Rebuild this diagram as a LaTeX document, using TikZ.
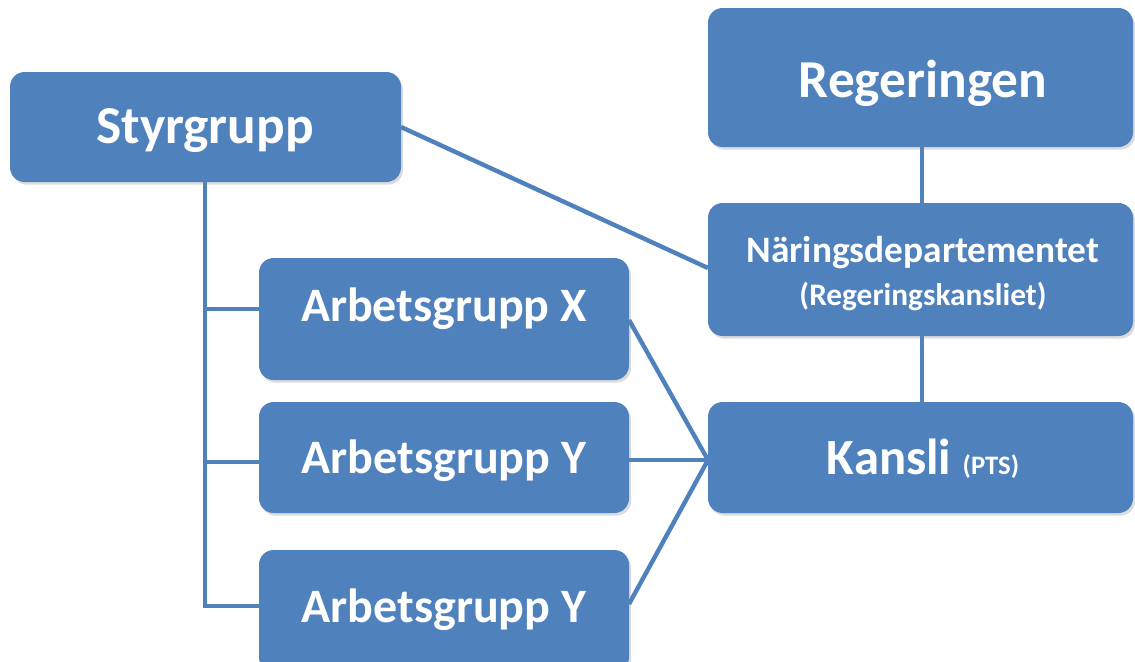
\documentclass[tikz,border=0pt]{standalone}
\usepackage{fontspec}
\setmainfont{Carlito}
\usetikzlibrary{shadows}
\definecolor{accent}{RGB}{79,129,189}
\tikzset{
  box/.style={draw=none, fill=accent, rounded corners=11pt, inner sep=0pt,
    drop shadow={opacity=0.28, shadow xshift=1.5pt, shadow yshift=-2pt}},
  txt/.style={text=white, font=\bfseries, anchor=base, inner sep=0pt},
  link/.style={draw=accent, line width=3.3pt},
}
\begin{document}
\begin{tikzpicture}[x=0.75pt, y=-0.75pt]
\useasboundingbox (0,0) rectangle (1135,661);
% links (behind boxes)
\coordinate (trunkTop) at (205,182);
\coordinate (trunkX) at (205,309);
\coordinate (trunkY) at (205,462);
\coordinate (trunkZ) at (205,606);
\coordinate (kIn) at (708,460);
\coordinate (sOut) at (401,127);
\coordinate (nIn) at (708,268);
\coordinate (xOut) at (629,320);
\coordinate (yOut) at (629,460);
\coordinate (zOut) at (629,604);
\draw[link] (trunkTop) -- (trunkZ) -- (259,606);
\draw[link] (trunkX) -- (259,309);
\draw[link] (trunkY) -- (259,462);
\draw[link] (sOut) -- (nIn);
\draw[link] (922,147) -- (922,203);
\draw[link] (922,336) -- (922,402);
\draw[link] (xOut) -- (kIn);
\draw[link] (yOut) -- (kIn);
\draw[link] (zOut) -- (kIn);
% boxes
\node[box, minimum width=293.25pt, minimum height=82.5pt] (sty) at (205.5,127) {};
\node[box, minimum width=318.75pt, minimum height=104.25pt] (reg) at (920.5,77.5) {};
\node[box, minimum width=318.75pt, minimum height=99.75pt] (nar) at (920.5,269.5) {};
\node[box, minimum width=318.75pt, minimum height=83.25pt] (kan) at (920.5,457.5) {};
\node[box, minimum width=277.5pt, minimum height=91.5pt] (agx) at (444,319) {};
\node[box, minimum width=277.5pt, minimum height=83.25pt] (agy) at (444,457.5) {};
\node[box, minimum width=277.5pt, minimum height=91.5pt] (agz) at (444,611) {};
% texts
\node[txt, font=\bfseries\fontsize{40}{44}\selectfont] (tsty) at (205,143) {Styrgrupp};
\node[txt, font=\bfseries\fontsize{40}{44}\selectfont] (treg) at (923,97) {Regeringen};
\node[txt, font=\bfseries\fontsize{28}{32}\selectfont] (tnar) at (923,262) {Näringsdepartementet};
\node[txt, font=\bfseries\fontsize{23.5}{28}\selectfont] (tnar2) at (923,305) {(Regeringskansliet)};
\node[txt, font=\bfseries\fontsize{36}{40}\selectfont] (tagx) at (444,321) {Arbetsgrupp X};
\node[txt, font=\bfseries\fontsize{36}{40}\selectfont] (tagy) at (444,473) {Arbetsgrupp Y};
\node[txt, font=\bfseries\fontsize{36}{40}\selectfont] (tagz) at (444,622) {Arbetsgrupp Y};
\node[txt, font=\bfseries\fontsize{38}{42}\selectfont] (tkan) at (923,474) {Kansli {\fontsize{20}{24}\selectfont (PTS)}};
\end{tikzpicture}
\end{document}
